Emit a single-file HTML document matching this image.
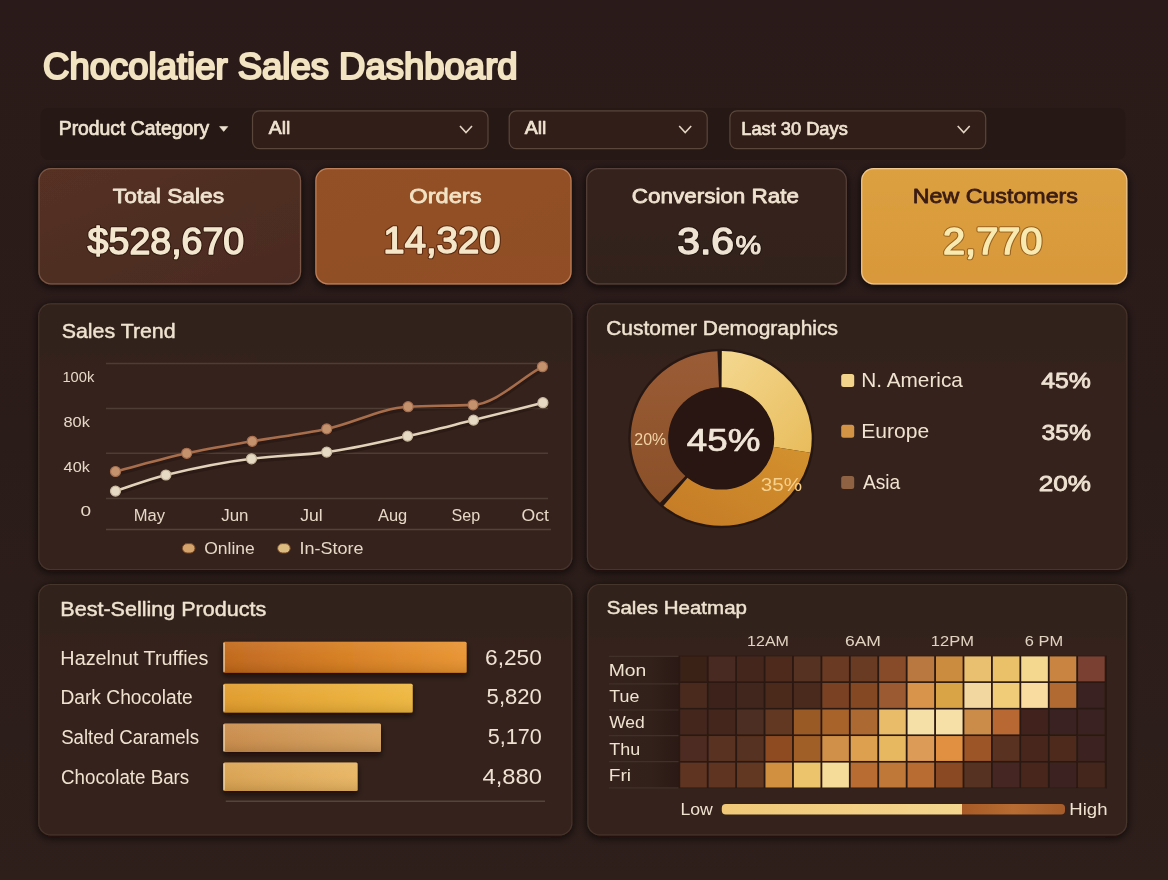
<!DOCTYPE html>
<html><head><meta charset="utf-8"><style>
html,body{margin:0;padding:0;background:#281b18;}
svg{display:block;font-family:"Liberation Sans",sans-serif;will-change:transform;}
</style></head><body>
<svg width="1168" height="880" viewBox="0 0 1168 880">
<defs>
<linearGradient id="bgv" x1="0" y1="0" x2="0" y2="1"><stop offset="0" stop-color="#2a1b1a"/><stop offset="0.5" stop-color="#2a1c19"/><stop offset="1" stop-color="#2e1f1b"/></linearGradient>
<linearGradient id="card1" x1="0" y1="0" x2="1" y2="1"><stop offset="0" stop-color="#553023"/><stop offset="1" stop-color="#4a2b20"/></linearGradient>
<linearGradient id="card2" x1="0" y1="0" x2="1" y2="1"><stop offset="0" stop-color="#935026"/><stop offset="1" stop-color="#904e25"/></linearGradient>
<linearGradient id="card3" x1="0" y1="0" x2="0" y2="1"><stop offset="0" stop-color="#35221c"/><stop offset="1" stop-color="#33201b"/></linearGradient>
<linearGradient id="card4" x1="0" y1="0" x2="0" y2="1"><stop offset="0" stop-color="#dca040"/><stop offset="1" stop-color="#d8983a"/></linearGradient>
<linearGradient id="panel" x1="0" y1="0" x2="0" y2="1"><stop offset="0" stop-color="#31201b"/><stop offset="0.25" stop-color="#34221d"/><stop offset="1" stop-color="#35231e"/></linearGradient>
<linearGradient id="bar1" x1="0" y1="0" x2="1" y2="0"><stop offset="0" stop-color="#bf6418"/><stop offset="0.5" stop-color="#d67c1e"/><stop offset="1" stop-color="#e8922e"/></linearGradient>
<linearGradient id="bar2" x1="0" y1="0" x2="1" y2="0"><stop offset="0" stop-color="#e09a28"/><stop offset="1" stop-color="#eeb63c"/></linearGradient>
<linearGradient id="bar3" x1="0" y1="0" x2="1" y2="0"><stop offset="0" stop-color="#c88a48"/><stop offset="1" stop-color="#d6a05c"/></linearGradient>
<linearGradient id="bar4" x1="0" y1="0" x2="1" y2="0"><stop offset="0" stop-color="#d8a04e"/><stop offset="1" stop-color="#e8b460"/></linearGradient>
<linearGradient id="dny" x1="0" y1="0" x2="1" y2="1"><stop offset="0" stop-color="#f4d890"/><stop offset="1" stop-color="#e8bc5c"/></linearGradient>
<linearGradient id="dno" x1="1" y1="0" x2="0" y2="1"><stop offset="0" stop-color="#d4922e"/><stop offset="1" stop-color="#c47a26"/></linearGradient>
<linearGradient id="dnb" x1="0" y1="1" x2="0" y2="0"><stop offset="0" stop-color="#8a5028"/><stop offset="1" stop-color="#9a5c36"/></linearGradient>
<linearGradient id="legbar" x1="0" y1="0" x2="1" y2="0"><stop offset="0" stop-color="#f0c878"/><stop offset="0.7" stop-color="#f4d68e"/><stop offset="0.7" stop-color="#a85a26"/><stop offset="0.85" stop-color="#b66c32"/><stop offset="1" stop-color="#a65c2a"/></linearGradient>
<filter id="sh" x="-10%" y="-15%" width="120%" height="140%"><feDropShadow dx="0" dy="2" stdDeviation="5" flood-color="#0a0402" flood-opacity="0.8"/></filter>
<linearGradient id="sheen" x1="0" y1="0" x2="0" y2="1"><stop offset="0" stop-color="#fff" stop-opacity="0.10"/><stop offset="0.45" stop-color="#fff" stop-opacity="0.04"/><stop offset="1" stop-color="#000" stop-opacity="0.10"/></linearGradient>
<filter id="bsh" x="-5%" y="-30%" width="110%" height="170%"><feDropShadow dx="0" dy="3" stdDeviation="3" flood-color="#0a0402" flood-opacity="0.7"/></filter>
<linearGradient id="labgrad" x1="0" y1="0" x2="1" y2="0"><stop offset="0" stop-color="#000" stop-opacity="0"/><stop offset="0.6" stop-color="#140805" stop-opacity="0.08"/><stop offset="1" stop-color="#140805" stop-opacity="0.35"/></linearGradient>
<filter id="cellblur" x="-2%" y="-2%" width="104%" height="104%"><feGaussianBlur stdDeviation="0.45"/></filter>
<linearGradient id="cellsheen" x1="0" y1="0" x2="0" y2="1"><stop offset="0" stop-color="#000" stop-opacity="0"/><stop offset="1" stop-color="#000" stop-opacity="0"/></linearGradient>
<filter id="tsh" x="-5%" y="-20%" width="110%" height="150%"><feDropShadow dx="0" dy="1" stdDeviation="1" flood-color="#000" flood-opacity="0.5"/></filter>
</defs>
<rect x="0" y="0" width="1168" height="880" fill="url(#bgv)"/>
<text x="43.08" y="78.50" font-size="36.65" font-weight="normal" fill="#f2e4c2" stroke="#f2e4c2" stroke-width="2.20" stroke-linejoin="round" textLength="474.51" lengthAdjust="spacingAndGlyphs" >Chocolatier Sales Dashboard</text>
<rect x="40.5" y="108" width="1085" height="52" rx="8" fill="#251815" opacity="0.9"/>
<text x="58.77" y="134.60" font-size="19.30" font-weight="normal" fill="#efe3d0" stroke="#efe3d0" stroke-width="0.73" stroke-linejoin="round" textLength="150.50" lengthAdjust="spacingAndGlyphs" >Product Category</text>
<path d="M219.6,126.6 L227.8,126.6 L223.7,131.4 Z" fill="#ebe0d0" stroke="#ebe0d0" stroke-width="0.6" stroke-linejoin="round"/>
<rect x="252.5" y="110.8" width="235.5" height="37.8" rx="7" fill="#311e19" stroke="#5a463a" stroke-width="1.2"/>
<path d="M460.0,126 L466.0,132.5 L472.0,126" fill="none" stroke="#e2d4c2" stroke-width="1.6"/>
<rect x="509.2" y="110.8" width="198.00000000000006" height="37.8" rx="7" fill="#311e19" stroke="#5a463a" stroke-width="1.2"/>
<path d="M679.2,126 L685.2,132.5 L691.2,126" fill="none" stroke="#e2d4c2" stroke-width="1.6"/>
<rect x="729.9" y="110.8" width="255.80000000000007" height="37.8" rx="7" fill="#311e19" stroke="#5a463a" stroke-width="1.2"/>
<path d="M957.7,126 L963.7,132.5 L969.7,126" fill="none" stroke="#e2d4c2" stroke-width="1.6"/>
<text x="268.80" y="134.40" font-size="18.47" font-weight="normal" fill="#efe3d0" stroke="#efe3d0" stroke-width="0.70" stroke-linejoin="round" textLength="21.64" lengthAdjust="spacingAndGlyphs" >All</text>
<text x="524.80" y="134.40" font-size="18.47" font-weight="normal" fill="#efe3d0" stroke="#efe3d0" stroke-width="0.70" stroke-linejoin="round" textLength="21.64" lengthAdjust="spacingAndGlyphs" >All</text>
<text x="741.24" y="134.60" font-size="18.47" font-weight="normal" fill="#efe3d0" stroke="#efe3d0" stroke-width="0.70" stroke-linejoin="round" textLength="106.53" lengthAdjust="spacingAndGlyphs" >Last 30 Days</text>
<rect x="39.0" y="168.6" width="261.5" height="115.2" rx="12" fill="url(#card1)" stroke="#7a5646" stroke-width="1.2" filter="url(#sh)"/>
<rect x="315.9" y="168.6" width="255.10000000000002" height="115.2" rx="12" fill="url(#card2)" stroke="#c0805a" stroke-width="1.2" filter="url(#sh)"/>
<rect x="586.7" y="168.6" width="259.5999999999999" height="115.2" rx="12" fill="url(#card3)" stroke="#56403a" stroke-width="1.2" filter="url(#sh)"/>
<rect x="861.7" y="168.6" width="265.0999999999999" height="115.2" rx="12" fill="url(#card4)" stroke="#f0c890" stroke-width="1.2" filter="url(#sh)"/>
<text x="112.89" y="202.60" font-size="20.95" font-weight="normal" fill="#efe3d0" stroke="#efe3d0" stroke-width="0.80" stroke-linejoin="round" textLength="111.20" lengthAdjust="spacingAndGlyphs" >Total Sales</text>
<text x="87.62" y="253.70" font-size="36.14" font-weight="normal" fill="#2e160c" stroke="#2e160c" stroke-width="3.59" stroke-linejoin="round" textLength="156.63" lengthAdjust="spacingAndGlyphs" opacity="0.75">$528,670</text>
<text x="87.62" y="253.70" font-size="36.14" font-weight="normal" fill="#f3e8cf" stroke="#f3e8cf" stroke-width="1.39" stroke-linejoin="round" textLength="156.63" lengthAdjust="spacingAndGlyphs" >$528,670</text>
<text x="409.27" y="202.60" font-size="20.68" font-weight="normal" fill="#f2e2c4" stroke="#f2e2c4" stroke-width="0.78" stroke-linejoin="round" textLength="72.19" lengthAdjust="spacingAndGlyphs" >Orders</text>
<text x="383.32" y="253.40" font-size="36.00" font-weight="normal" fill="#4a200a" stroke="#4a200a" stroke-width="3.59" stroke-linejoin="round" textLength="117.27" lengthAdjust="spacingAndGlyphs" opacity="0.75">14,320</text>
<text x="383.32" y="253.40" font-size="36.00" font-weight="normal" fill="#f4e6c8" stroke="#f4e6c8" stroke-width="1.39" stroke-linejoin="round" textLength="117.27" lengthAdjust="spacingAndGlyphs" >14,320</text>
<text x="631.87" y="202.70" font-size="20.68" font-weight="normal" fill="#efe3d0" stroke="#efe3d0" stroke-width="0.78" stroke-linejoin="round" textLength="167.11" lengthAdjust="spacingAndGlyphs" >Conversion Rate</text>
<text x="677.16" y="253.60" font-size="36.00" font-weight="normal" fill="#1a0c08" stroke="#1a0c08" stroke-width="3.39" stroke-linejoin="round" textLength="56.90" lengthAdjust="spacingAndGlyphs" opacity="0.6">3.6</text>
<text x="677.16" y="253.60" font-size="36.00" font-weight="normal" fill="#efe3d3" stroke="#efe3d3" stroke-width="1.39" stroke-linejoin="round" textLength="56.90" lengthAdjust="spacingAndGlyphs" >3.6</text>
<text x="735.50" y="253.60" font-size="26.49" font-weight="normal" fill="#1a0c08" stroke="#1a0c08" stroke-width="3.02" stroke-linejoin="round" textLength="25.68" lengthAdjust="spacingAndGlyphs" opacity="0.6">%</text>
<text x="735.50" y="253.60" font-size="26.49" font-weight="normal" fill="#efe3d3" stroke="#efe3d3" stroke-width="1.02" stroke-linejoin="round" textLength="25.68" lengthAdjust="spacingAndGlyphs" >%</text>
<text x="912.78" y="203.00" font-size="20.68" font-weight="normal" fill="#3a1c14" stroke="#3a1c14" stroke-width="0.78" stroke-linejoin="round" textLength="165.15" lengthAdjust="spacingAndGlyphs" >New Customers</text>
<text x="943.01" y="253.60" font-size="36.00" font-weight="normal" fill="#8a5418" stroke="#8a5418" stroke-width="3.39" stroke-linejoin="round" textLength="99.49" lengthAdjust="spacingAndGlyphs" opacity="0.8">2,770</text>
<text x="943.01" y="253.60" font-size="36.00" font-weight="normal" fill="#f8eab0" stroke="#f8eab0" stroke-width="1.39" stroke-linejoin="round" textLength="99.49" lengthAdjust="spacingAndGlyphs" >2,770</text>
<rect x="38.8" y="303.8" width="533.0" height="265.7" rx="12" fill="url(#panel)" stroke="#45342b" stroke-width="1.2" filter="url(#sh)"/>
<rect x="587.5" y="303.8" width="539.3" height="265.7" rx="12" fill="url(#panel)" stroke="#45342b" stroke-width="1.2" filter="url(#sh)"/>
<rect x="38.8" y="584.5" width="533.0" height="250.39999999999998" rx="12" fill="url(#panel)" stroke="#45342b" stroke-width="1.2" filter="url(#sh)"/>
<rect x="587.9" y="584.5" width="538.6" height="250.39999999999998" rx="12" fill="url(#panel)" stroke="#45342b" stroke-width="1.2" filter="url(#sh)"/>
<text x="61.66" y="337.80" font-size="20.58" font-weight="normal" fill="#efe3d0" stroke="#efe3d0" stroke-width="0.45" stroke-linejoin="round" textLength="113.98" lengthAdjust="spacingAndGlyphs" >Sales Trend</text>
<line x1="106" y1="363.5" x2="548" y2="363.5" stroke="#4e3d33" stroke-width="1.5"/>
<line x1="106" y1="408.6" x2="548" y2="408.6" stroke="#4e3d33" stroke-width="1.5"/>
<line x1="106" y1="453.3" x2="548" y2="453.3" stroke="#4e3d33" stroke-width="1.5"/>
<line x1="106" y1="498.6" x2="548" y2="498.6" stroke="#4e3d33" stroke-width="1.5"/>
<line x1="106" y1="529.5" x2="551" y2="529.5" stroke="#54433a" stroke-width="1.5"/>
<text x="62.40" y="381.70" font-size="14.91" font-weight="normal" fill="#e6d8c6" textLength="31.92" lengthAdjust="spacingAndGlyphs" >100k</text>
<text x="63.50" y="426.80" font-size="14.91" font-weight="normal" fill="#e6d8c6" textLength="26.39" lengthAdjust="spacingAndGlyphs" >80k</text>
<text x="63.63" y="472.00" font-size="14.91" font-weight="normal" fill="#e6d8c6" textLength="26.26" lengthAdjust="spacingAndGlyphs" >40k</text>
<text x="80.44" y="515.60" font-size="14.91" font-weight="normal" fill="#e6d8c6" textLength="10.60" lengthAdjust="spacingAndGlyphs" >0</text>
<text x="133.83" y="521.30" font-size="16.44" font-weight="normal" fill="#e6d8c6" textLength="31.29" lengthAdjust="spacingAndGlyphs" >May</text>
<text x="221.25" y="521.30" font-size="16.44" font-weight="normal" fill="#e6d8c6" textLength="27.25" lengthAdjust="spacingAndGlyphs" >Jun</text>
<text x="300.24" y="521.30" font-size="16.44" font-weight="normal" fill="#e6d8c6" textLength="22.46" lengthAdjust="spacingAndGlyphs" >Jul</text>
<text x="377.96" y="521.30" font-size="16.44" font-weight="normal" fill="#e6d8c6" textLength="29.30" lengthAdjust="spacingAndGlyphs" >Aug</text>
<text x="451.48" y="521.30" font-size="16.44" font-weight="normal" fill="#e6d8c6" textLength="28.60" lengthAdjust="spacingAndGlyphs" >Sep</text>
<text x="521.56" y="521.30" font-size="16.44" font-weight="normal" fill="#e6d8c6" textLength="27.38" lengthAdjust="spacingAndGlyphs" >Oct</text>
<path d="M115.5,471.5 C139.2,465.4 163.0,458.4 186.7,453.3 C208.5,448.7 230.4,445.1 252.2,441.3 C277.0,437.0 301.9,434.0 326.7,428.9 C353.8,423.3 381.0,408.0 408.1,406.7 C429.7,405.6 451.4,406.0 473.0,404.9 C496.1,403.7 519.3,379.4 542.4,366.7" fill="none" stroke="#1a0c08" stroke-opacity="0.35" stroke-width="5" transform="translate(0,2)"/>
<path d="M115.5,491.1 C132.3,485.7 149.1,479.1 165.9,475.0 C194.4,468.1 223.0,462.2 251.5,458.8 C276.6,455.8 301.6,455.2 326.7,452.1 C353.7,448.8 380.6,442.0 407.6,436.1 C429.6,431.3 451.5,425.5 473.5,420.1 C496.6,414.4 519.8,408.5 542.9,402.7" fill="none" stroke="#1a0c08" stroke-opacity="0.35" stroke-width="5" transform="translate(0,2)"/>
<path d="M115.5,471.5 C139.2,465.4 163.0,458.4 186.7,453.3 C208.5,448.7 230.4,445.1 252.2,441.3 C277.0,437.0 301.9,434.0 326.7,428.9 C353.8,423.3 381.0,408.0 408.1,406.7 C429.7,405.6 451.4,406.0 473.0,404.9 C496.1,403.7 519.3,379.4 542.4,366.7" fill="none" stroke="#a86e4c" stroke-width="2.6" stroke-linecap="round"/>
<path d="M115.5,491.1 C132.3,485.7 149.1,479.1 165.9,475.0 C194.4,468.1 223.0,462.2 251.5,458.8 C276.6,455.8 301.6,455.2 326.7,452.1 C353.7,448.8 380.6,442.0 407.6,436.1 C429.6,431.3 451.5,425.5 473.5,420.1 C496.6,414.4 519.8,408.5 542.9,402.7" fill="none" stroke="#e2d2ba" stroke-width="2.6" stroke-linecap="round"/>
<circle cx="115.5" cy="471.5" r="5" fill="#c4926c" stroke="#a87050" stroke-width="1.2"/>
<circle cx="186.7" cy="453.3" r="5" fill="#c4926c" stroke="#a87050" stroke-width="1.2"/>
<circle cx="252.2" cy="441.3" r="5" fill="#c4926c" stroke="#a87050" stroke-width="1.2"/>
<circle cx="326.7" cy="428.9" r="5" fill="#c4926c" stroke="#a87050" stroke-width="1.2"/>
<circle cx="408.1" cy="406.7" r="5" fill="#c4926c" stroke="#a87050" stroke-width="1.2"/>
<circle cx="473" cy="404.9" r="5" fill="#c4926c" stroke="#a87050" stroke-width="1.2"/>
<circle cx="542.4" cy="366.7" r="5" fill="#c4926c" stroke="#a87050" stroke-width="1.2"/>
<circle cx="115.5" cy="491.1" r="5" fill="#e6dac4" stroke="#c8b89e" stroke-width="1.2"/>
<circle cx="165.9" cy="475" r="5" fill="#e6dac4" stroke="#c8b89e" stroke-width="1.2"/>
<circle cx="251.5" cy="458.8" r="5" fill="#e6dac4" stroke="#c8b89e" stroke-width="1.2"/>
<circle cx="326.7" cy="452.1" r="5" fill="#e6dac4" stroke="#c8b89e" stroke-width="1.2"/>
<circle cx="407.6" cy="436.1" r="5" fill="#e6dac4" stroke="#c8b89e" stroke-width="1.2"/>
<circle cx="473.5" cy="420.1" r="5" fill="#e6dac4" stroke="#c8b89e" stroke-width="1.2"/>
<circle cx="542.9" cy="402.7" r="5" fill="#e6dac4" stroke="#c8b89e" stroke-width="1.2"/>
<rect x="182.4" y="543.6" width="12.6" height="9.4" rx="4.7" fill="#d4a46c" stroke="#7a4a26" stroke-width="1"/>
<text x="204.17" y="554.00" font-size="16.44" font-weight="normal" fill="#e6d8c6" textLength="50.59" lengthAdjust="spacingAndGlyphs" >Online</text>
<rect x="277.6" y="543.6" width="12.6" height="9.4" rx="4.7" fill="#dcbc80" stroke="#7a4a26" stroke-width="1"/>
<text x="299.64" y="554.00" font-size="16.44" font-weight="normal" fill="#e6d8c6" textLength="63.86" lengthAdjust="spacingAndGlyphs" >In-Store</text>
<text x="606.18" y="335.40" font-size="19.71" font-weight="normal" fill="#efe3d0" stroke="#efe3d0" stroke-width="0.45" stroke-linejoin="round" textLength="231.73" lengthAdjust="spacingAndGlyphs" >Customer Demographics</text>
<g transform="translate(721.2,438.4) scale(1,0.965)">
<circle cx="0" cy="0" r="93" fill="#1c0f0c" opacity="0.55"/>
<path d="M0.63,-90.50 A90.5,90.5 0 0 1 89.26,14.94 L51.78,8.66 A52.5,52.5 0 0 0 0.37,-52.50 Z" fill="url(#dny)"/>
<path d="M89.26,14.94 A90.5,90.5 0 0 1 -57.69,69.73 L-33.46,40.45 A52.5,52.5 0 0 0 51.78,8.66 Z" fill="url(#dno)"/>
<path d="M-61.26,66.62 A90.5,90.5 0 0 1 -3.79,-90.42 L-2.20,-52.45 A52.5,52.5 0 0 0 -35.54,38.65 Z" fill="url(#dnb)"/>
<circle cx="0" cy="0" r="53" fill="#291612"/>
</g>
<text x="686.72" y="450.90" font-size="31.83" font-weight="normal" fill="#f0e6d8" stroke="#f0e6d8" stroke-width="0.70" stroke-linejoin="round" textLength="73.68" lengthAdjust="spacingAndGlyphs" >45%</text>
<text x="634.30" y="445.30" font-size="16.20" font-weight="normal" fill="#f0d2a4" textLength="31.94" lengthAdjust="spacingAndGlyphs" >20%</text>
<text x="760.73" y="490.50" font-size="18.92" font-weight="normal" fill="#f6d08c" textLength="41.27" lengthAdjust="spacingAndGlyphs" >35%</text>
<rect x="841.2" y="374.1" width="13" height="13" rx="2.5" fill="#f2d48a"/>
<text x="861.28" y="387.10" font-size="19.93" font-weight="normal" fill="#efe3d0" textLength="101.67" lengthAdjust="spacingAndGlyphs" >N. America</text>
<text x="1041.24" y="388.00" font-size="21.51" font-weight="normal" fill="#eee2d2" stroke="#eee2d2" stroke-width="0.80" stroke-linejoin="round" textLength="49.70" lengthAdjust="spacingAndGlyphs" >45%</text>
<rect x="841.2" y="424.8" width="13" height="13" rx="2.5" fill="#d49446"/>
<text x="861.26" y="437.80" font-size="19.93" font-weight="normal" fill="#efe3d0" textLength="67.88" lengthAdjust="spacingAndGlyphs" >Europe</text>
<text x="1041.47" y="440.00" font-size="21.51" font-weight="normal" fill="#eee2d2" stroke="#eee2d2" stroke-width="0.80" stroke-linejoin="round" textLength="49.47" lengthAdjust="spacingAndGlyphs" >35%</text>
<rect x="841.2" y="476" width="13" height="13" rx="2.5" fill="#8e6242"/>
<text x="862.95" y="489.00" font-size="19.93" font-weight="normal" fill="#efe3d0" textLength="37.31" lengthAdjust="spacingAndGlyphs" >Asia</text>
<text x="1038.80" y="490.80" font-size="21.51" font-weight="normal" fill="#eee2d2" stroke="#eee2d2" stroke-width="0.80" stroke-linejoin="round" textLength="52.19" lengthAdjust="spacingAndGlyphs" >20%</text>
<text x="60.35" y="615.50" font-size="20.00" font-weight="normal" fill="#efe3d0" stroke="#efe3d0" stroke-width="0.45" stroke-linejoin="round" textLength="205.89" lengthAdjust="spacingAndGlyphs" >Best-Selling Products</text>
<text x="60.37" y="664.80" font-size="19.78" font-weight="normal" fill="#efe3d0" textLength="148.14" lengthAdjust="spacingAndGlyphs" >Hazelnut Truffies</text>
<rect x="223.3" y="641.7" width="243.3" height="31.09999999999991" rx="1.5" fill="url(#bar1)" filter="url(#bsh)"/>
<rect x="223.3" y="641.7" width="243.3" height="31.09999999999991" rx="1.5" fill="url(#sheen)"/>
<rect x="223.3" y="642.7" width="1.6" height="29.09999999999991" fill="#f6dcb0" opacity="0.7"/>
<text x="485.07" y="664.80" font-size="21.51" font-weight="normal" fill="#eee2d2" textLength="56.79" lengthAdjust="spacingAndGlyphs" >6,250</text>
<text x="60.42" y="704.20" font-size="19.78" font-weight="normal" fill="#efe3d0" textLength="132.34" lengthAdjust="spacingAndGlyphs" >Dark Chocolate</text>
<rect x="223.3" y="683.8" width="189.39999999999998" height="28.600000000000023" rx="1.5" fill="url(#bar2)" filter="url(#bsh)"/>
<rect x="223.3" y="683.8" width="189.39999999999998" height="28.600000000000023" rx="1.5" fill="url(#sheen)"/>
<rect x="223.3" y="684.8" width="1.6" height="26.600000000000023" fill="#f6dcb0" opacity="0.7"/>
<text x="486.62" y="704.20" font-size="21.51" font-weight="normal" fill="#eee2d2" textLength="55.21" lengthAdjust="spacingAndGlyphs" >5,820</text>
<text x="61.16" y="744.20" font-size="19.78" font-weight="normal" fill="#efe3d0" textLength="137.89" lengthAdjust="spacingAndGlyphs" >Salted Caramels</text>
<rect x="223.3" y="723.4" width="157.7" height="28.600000000000023" rx="1.5" fill="url(#bar3)" filter="url(#bsh)"/>
<rect x="223.3" y="723.4" width="157.7" height="28.600000000000023" rx="1.5" fill="url(#sheen)"/>
<rect x="223.3" y="724.4" width="1.6" height="26.600000000000023" fill="#f6dcb0" opacity="0.7"/>
<text x="487.84" y="744.20" font-size="21.51" font-weight="normal" fill="#eee2d2" textLength="53.97" lengthAdjust="spacingAndGlyphs" >5,170</text>
<text x="61.06" y="784.00" font-size="19.78" font-weight="normal" fill="#efe3d0" textLength="128.19" lengthAdjust="spacingAndGlyphs" >Chocolate Bars</text>
<rect x="223.3" y="762.4" width="134.3" height="28.5" rx="1.5" fill="url(#bar4)" filter="url(#bsh)"/>
<rect x="223.3" y="762.4" width="134.3" height="28.5" rx="1.5" fill="url(#sheen)"/>
<rect x="223.3" y="763.4" width="1.6" height="26.5" fill="#f6dcb0" opacity="0.7"/>
<text x="482.47" y="784.00" font-size="21.51" font-weight="normal" fill="#eee2d2" textLength="59.43" lengthAdjust="spacingAndGlyphs" >4,880</text>
<line x1="225.8" y1="801.3" x2="545" y2="801.3" stroke="#54443a" stroke-width="1.5"/>
<text x="606.80" y="614.00" font-size="18.69" font-weight="normal" fill="#efe3d0" stroke="#efe3d0" stroke-width="0.45" stroke-linejoin="round" textLength="140.14" lengthAdjust="spacingAndGlyphs" >Sales Heatmap</text>
<text x="747.10" y="645.60" font-size="14.69" font-weight="normal" fill="#e0d2c0" textLength="41.82" lengthAdjust="spacingAndGlyphs" >12AM</text>
<text x="844.92" y="645.60" font-size="14.69" font-weight="normal" fill="#e0d2c0" textLength="36.04" lengthAdjust="spacingAndGlyphs" >6AM</text>
<text x="930.86" y="645.60" font-size="14.69" font-weight="normal" fill="#e0d2c0" textLength="43.10" lengthAdjust="spacingAndGlyphs" >12PM</text>
<text x="1024.88" y="645.60" font-size="14.69" font-weight="normal" fill="#e0d2c0" textLength="38.30" lengthAdjust="spacingAndGlyphs" >6 PM</text>
<rect x="608.9" y="656" width="71" height="132" fill="url(#labgrad)"/>
<line x1="608.9" y1="656.4" x2="1105.5" y2="656.4" stroke="#41302a" stroke-width="1.2"/>
<line x1="608.9" y1="683.8" x2="1105.5" y2="683.8" stroke="#41302a" stroke-width="1.2"/>
<line x1="608.9" y1="710" x2="1105.5" y2="710" stroke="#41302a" stroke-width="1.2"/>
<line x1="608.9" y1="735.6" x2="1105.5" y2="735.6" stroke="#41302a" stroke-width="1.2"/>
<line x1="608.9" y1="761.6" x2="1105.5" y2="761.6" stroke="#41302a" stroke-width="1.2"/>
<line x1="608.9" y1="787.8" x2="1105.5" y2="787.8" stroke="#41302a" stroke-width="1.2"/>
<rect x="678.5" y="655.5" width="428.5" height="133" fill="#2a1812"/>
<text x="608.70" y="675.60" font-size="16.87" font-weight="normal" fill="#efe3d0" textLength="37.61" lengthAdjust="spacingAndGlyphs" >Mon</text>
<text x="609.30" y="701.80" font-size="16.87" font-weight="normal" fill="#efe3d0" textLength="30.08" lengthAdjust="spacingAndGlyphs" >Tue</text>
<text x="609.21" y="728.00" font-size="16.87" font-weight="normal" fill="#efe3d0" textLength="35.59" lengthAdjust="spacingAndGlyphs" >Wed</text>
<text x="609.30" y="755.00" font-size="16.87" font-weight="normal" fill="#efe3d0" textLength="30.88" lengthAdjust="spacingAndGlyphs" >Thu</text>
<text x="608.72" y="781.20" font-size="16.87" font-weight="normal" fill="#efe3d0" textLength="22.35" lengthAdjust="spacingAndGlyphs" >Fri</text>
<g filter="url(#cellblur)">
<rect x="680.20" y="656.40" width="26.6" height="24.9" fill="#3a2219"/>
<rect x="708.62" y="656.40" width="26.6" height="24.9" fill="#4a2a20"/>
<rect x="737.04" y="656.40" width="26.6" height="24.9" fill="#45281e"/>
<rect x="765.46" y="656.40" width="26.6" height="24.9" fill="#4e2c1e"/>
<rect x="793.88" y="656.40" width="26.6" height="24.9" fill="#553220"/>
<rect x="822.30" y="656.40" width="26.6" height="24.9" fill="#6a3a22"/>
<rect x="850.72" y="656.40" width="26.6" height="24.9" fill="#673a24"/>
<rect x="879.14" y="656.40" width="26.6" height="24.9" fill="#884c2a"/>
<rect x="907.56" y="656.40" width="26.6" height="24.9" fill="#b87840"/>
<rect x="935.98" y="656.40" width="26.6" height="24.9" fill="#cc8c40"/>
<rect x="964.40" y="656.40" width="26.6" height="24.9" fill="#e8c070"/>
<rect x="992.82" y="656.40" width="26.6" height="24.9" fill="#eac068"/>
<rect x="1021.24" y="656.40" width="26.6" height="24.9" fill="#f5d890"/>
<rect x="1049.66" y="656.40" width="26.6" height="24.9" fill="#c88440"/>
<rect x="1078.08" y="656.40" width="26.6" height="24.9" fill="#7a4030"/>
<rect x="680.20" y="682.95" width="26.6" height="24.9" fill="#4a2a1e"/>
<rect x="708.62" y="682.95" width="26.6" height="24.9" fill="#3e241c"/>
<rect x="737.04" y="682.95" width="26.6" height="24.9" fill="#40261e"/>
<rect x="765.46" y="682.95" width="26.6" height="24.9" fill="#4c2b1e"/>
<rect x="793.88" y="682.95" width="26.6" height="24.9" fill="#4a2c1e"/>
<rect x="822.30" y="682.95" width="26.6" height="24.9" fill="#7a4222"/>
<rect x="850.72" y="682.95" width="26.6" height="24.9" fill="#844822"/>
<rect x="879.14" y="682.95" width="26.6" height="24.9" fill="#9c5a30"/>
<rect x="907.56" y="682.95" width="26.6" height="24.9" fill="#d8944c"/>
<rect x="935.98" y="682.95" width="26.6" height="24.9" fill="#d8a444"/>
<rect x="964.40" y="682.95" width="26.6" height="24.9" fill="#f2d8a0"/>
<rect x="992.82" y="682.95" width="26.6" height="24.9" fill="#f0cc78"/>
<rect x="1021.24" y="682.95" width="26.6" height="24.9" fill="#f8dca0"/>
<rect x="1049.66" y="682.95" width="26.6" height="24.9" fill="#b06a30"/>
<rect x="1078.08" y="682.95" width="26.6" height="24.9" fill="#3a2220"/>
<rect x="680.20" y="709.50" width="26.6" height="24.9" fill="#45281e"/>
<rect x="708.62" y="709.50" width="26.6" height="24.9" fill="#45261e"/>
<rect x="737.04" y="709.50" width="26.6" height="24.9" fill="#4e2e20"/>
<rect x="765.46" y="709.50" width="26.6" height="24.9" fill="#643820"/>
<rect x="793.88" y="709.50" width="26.6" height="24.9" fill="#9a5a28"/>
<rect x="822.30" y="709.50" width="26.6" height="24.9" fill="#a8642c"/>
<rect x="850.72" y="709.50" width="26.6" height="24.9" fill="#ac6a30"/>
<rect x="879.14" y="709.50" width="26.6" height="24.9" fill="#e8bc68"/>
<rect x="907.56" y="709.50" width="26.6" height="24.9" fill="#f5e0a8"/>
<rect x="935.98" y="709.50" width="26.6" height="24.9" fill="#f6e0a8"/>
<rect x="964.40" y="709.50" width="26.6" height="24.9" fill="#cc8c48"/>
<rect x="992.82" y="709.50" width="26.6" height="24.9" fill="#b86830"/>
<rect x="1021.24" y="709.50" width="26.6" height="24.9" fill="#42241c"/>
<rect x="1049.66" y="709.50" width="26.6" height="24.9" fill="#3a2220"/>
<rect x="1078.08" y="709.50" width="26.6" height="24.9" fill="#3a2420"/>
<rect x="680.20" y="736.05" width="26.6" height="24.9" fill="#4e2c20"/>
<rect x="708.62" y="736.05" width="26.6" height="24.9" fill="#5a3222"/>
<rect x="737.04" y="736.05" width="26.6" height="24.9" fill="#553020"/>
<rect x="765.46" y="736.05" width="26.6" height="24.9" fill="#8e4c24"/>
<rect x="793.88" y="736.05" width="26.6" height="24.9" fill="#a05e28"/>
<rect x="822.30" y="736.05" width="26.6" height="24.9" fill="#d09048"/>
<rect x="850.72" y="736.05" width="26.6" height="24.9" fill="#dca050"/>
<rect x="879.14" y="736.05" width="26.6" height="24.9" fill="#e8b860"/>
<rect x="907.56" y="736.05" width="26.6" height="24.9" fill="#dc9c58"/>
<rect x="935.98" y="736.05" width="26.6" height="24.9" fill="#e09040"/>
<rect x="964.40" y="736.05" width="26.6" height="24.9" fill="#9c5428"/>
<rect x="992.82" y="736.05" width="26.6" height="24.9" fill="#5a3020"/>
<rect x="1021.24" y="736.05" width="26.6" height="24.9" fill="#4a281e"/>
<rect x="1049.66" y="736.05" width="26.6" height="24.9" fill="#4e2a1e"/>
<rect x="1078.08" y="736.05" width="26.6" height="24.9" fill="#3c2420"/>
<rect x="680.20" y="762.60" width="26.6" height="24.9" fill="#5e3422"/>
<rect x="708.62" y="762.60" width="26.6" height="24.9" fill="#5e3422"/>
<rect x="737.04" y="762.60" width="26.6" height="24.9" fill="#623824"/>
<rect x="765.46" y="762.60" width="26.6" height="24.9" fill="#d09040"/>
<rect x="793.88" y="762.60" width="26.6" height="24.9" fill="#ecc46c"/>
<rect x="822.30" y="762.60" width="26.6" height="24.9" fill="#f5dc98"/>
<rect x="850.72" y="762.60" width="26.6" height="24.9" fill="#b86c30"/>
<rect x="879.14" y="762.60" width="26.6" height="24.9" fill="#c07838"/>
<rect x="907.56" y="762.60" width="26.6" height="24.9" fill="#b86c30"/>
<rect x="935.98" y="762.60" width="26.6" height="24.9" fill="#8a4a24"/>
<rect x="964.40" y="762.60" width="26.6" height="24.9" fill="#553020"/>
<rect x="992.82" y="762.60" width="26.6" height="24.9" fill="#452620"/>
<rect x="1021.24" y="762.60" width="26.6" height="24.9" fill="#48261e"/>
<rect x="1049.66" y="762.60" width="26.6" height="24.9" fill="#3c2420"/>
<rect x="1078.08" y="762.60" width="26.6" height="24.9" fill="#45281e"/>
</g>
<rect x="680.2" y="656.4" width="424.9" height="130.1" fill="url(#cellsheen)" opacity="0.6"/>
<text x="680.44" y="815.40" font-size="15.85" font-weight="normal" fill="#efe3d0" textLength="32.40" lengthAdjust="spacingAndGlyphs" >Low</text>
<rect x="721.8" y="804" width="343.2" height="10.4" rx="4" fill="url(#legbar)"/>
<text x="1069.37" y="815.40" font-size="15.85" font-weight="normal" fill="#efe3d0" textLength="38.12" lengthAdjust="spacingAndGlyphs" >High</text>
</svg></body></html>
